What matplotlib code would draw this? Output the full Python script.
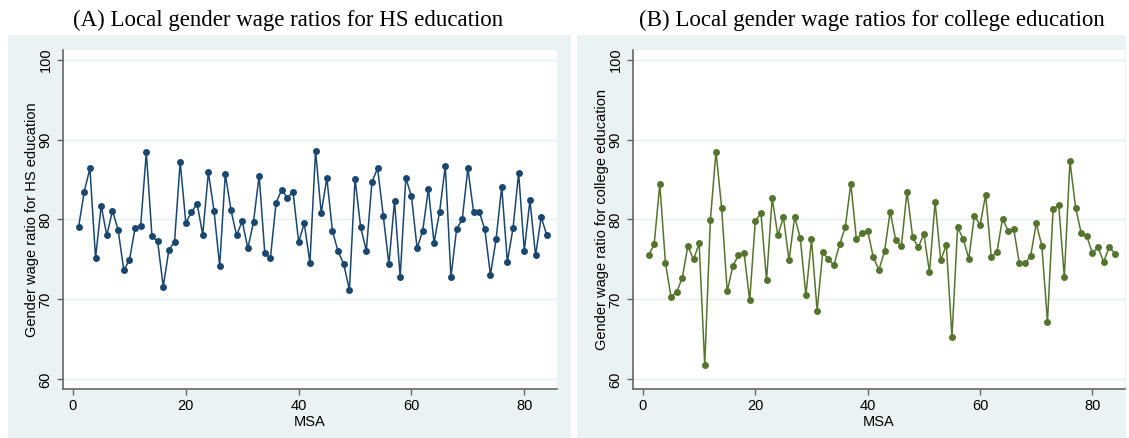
import matplotlib
matplotlib.use("Agg")
import matplotlib.pyplot as plt
from matplotlib.patches import Rectangle

# Local gender wage ratios by metropolitan statistical area (MSA 1..84)
msa = list(range(1, 85))

hs_ratio = [
    79.1, 83.5, 86.4, 75.2, 81.7, 78.0, 81.1, 78.7, 73.7, 74.9,
    78.9, 79.2, 88.4, 77.9, 77.3, 71.6, 76.2, 77.2, 87.2, 79.6,
    80.9, 82.0, 78.1, 85.9, 81.1, 74.2, 85.7, 81.2, 78.0, 79.8,
    76.4, 79.7, 85.5, 75.8, 75.2, 82.1, 83.7, 82.7, 83.5, 77.2,
    79.5, 74.6, 88.6, 80.8, 85.2, 78.5, 76.0, 74.4, 71.2, 85.1,
    79.0, 76.1, 84.7, 86.4, 80.5, 74.4, 82.3, 72.8, 85.2, 82.9,
    76.4, 78.6, 83.8, 77.1, 81.0, 86.7, 72.8, 78.8, 80.0, 86.4,
    81.0, 81.0, 78.8, 73.1, 77.5, 84.1, 74.7, 78.9, 85.8, 76.1,
    82.4, 75.5, 80.3, 78.0,
]

college_ratio = [
    75.5, 76.9, 84.4, 74.6, 70.3, 70.9, 72.7, 76.7, 75.0, 77.0,
    61.8, 79.9, 88.5, 81.5, 71.0, 74.2, 75.5, 75.8, 69.9, 79.8,
    80.8, 72.4, 82.7, 78.0, 80.3, 74.9, 80.3, 77.7, 70.5, 77.5,
    68.6, 75.9, 75.0, 74.3, 76.9, 79.0, 84.5, 77.5, 78.3, 78.6,
    75.3, 73.7, 76.0, 81.0, 77.4, 76.7, 83.5, 77.8, 76.5, 78.2,
    73.4, 82.2, 74.9, 76.8, 65.3, 79.0, 77.6, 75.1, 80.5, 79.3,
    83.1, 75.3, 75.9, 80.1, 78.6, 78.8, 74.5, 74.5, 75.4, 79.5,
    76.7, 67.2, 81.3, 81.8, 72.8, 87.3, 81.5, 78.3, 77.9, 75.8,
    76.5, 74.7, 76.6, 75.7,
]

titles = [
    "(A) Local gender wage ratios for HS education",
    "(B) Local gender wage ratios for college education",
]
ylabels = [
    "Gender wage ratio for HS education",
    "Gender wage ratio for college education",
]
colors = ["#1a476f", "#55752f"]
yticks = [60, 70, 80, 90, 100]
xticks = [0, 20, 40, 60, 80]

W, H = 1129, 438
REGION = "#eaf2f3"
AXIS = "#666666"

plt.rcParams["font.family"] = ["Liberation Sans", "DejaVu Sans"]

fig = plt.figure(figsize=(W / 100, H / 100), dpi=100)
fig.patch.set_facecolor("white")


def fx(px):
    return px / W


def fy(py):
    return 1 - py / H


# light graph-region panels behind each plot
regions = [(8, 35, 571, 438), (577, 35, 1126, 438)]
for x0, y0, x1, y1 in regions:
    fig.patches.append(Rectangle((fx(x0), fy(y1)), fx(x1) - fx(x0), fy(y0) - fy(y1),
                                 transform=fig.transFigure, facecolor=REGION,
                                 edgecolor="none", zorder=-5))

plot_boxes = [(63, 50, 557, 389), (633, 50, 1125, 389)]
title_x = [288, 872]
series = [hs_ratio, college_ratio]

for i in range(2):
    x0, y0, x1, y1 = plot_boxes[i]
    ax = fig.add_axes([fx(x0), fy(y1), fx(x1) - fx(x0), fy(y0) - fy(y1)])
    ax.set_zorder(2)
    ax.set_facecolor("white")
    ax.plot(msa, series[i], color=colors[i], lw=1.1, marker="o", ms=5.0,
            markeredgewidth=0, zorder=3)
    ax.set_xlim(-1.77, 85.8)
    ax.set_ylim(58.8, 101.2)
    ax.set_xticks(xticks)
    ax.set_yticks(yticks)
    ax.set_yticklabels([str(t) for t in yticks], rotation=90, va="center")
    ax.grid(axis="y", color="#e6eef0", lw=1.0, zorder=0)
    ax.tick_params(axis="both", labelsize=10.5, length=4.5, width=1.0,
                   color=AXIS, direction="out", pad=3)
    for s in ("top", "right"):
        ax.spines[s].set_visible(False)
    for s in ("left", "bottom"):
        ax.spines[s].set_color(AXIS)
        ax.spines[s].set_linewidth(1.2)
    ax.set_ylabel(ylabels[i], fontsize=10.5, labelpad=0)
    ax.set_xlabel("MSA", fontsize=10.5, labelpad=1)
    fig.text(fx(title_x[i]), fy(20), titles[i], ha="center", va="center",
             fontsize=16.5, family=["Liberation Serif", "DejaVu Serif"])

fig.savefig("out.png", dpi=100, facecolor="white")
